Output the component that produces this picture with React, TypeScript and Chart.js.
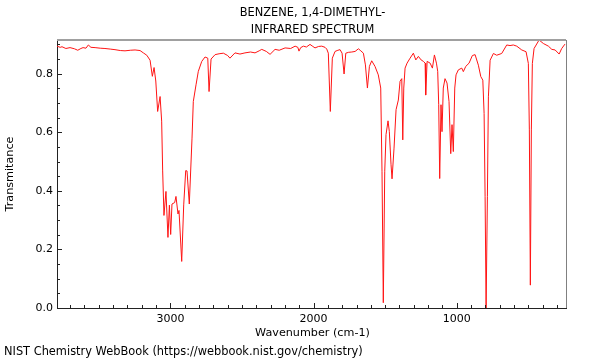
import React, { useEffect, useRef } from 'react';
import { Chart, registerables } from 'chart.js';

Chart.register(...registerables);

const TITLE_LINES = ['BENZENE, 1,4-DIMETHYL-', 'INFRARED SPECTRUM'];
const X_TITLE = 'Wavenumber (cm-1)';
const Y_TITLE = 'Transmitance';
const FOOTER = 'NIST Chemistry WebBook (https://webbook.nist.gov/chemistry)';

const X_MIN = 237;
const X_MAX = 3792;
const Y_MIN = 0;
const Y_MAX = 0.915;
const X_MINOR_STEP = 100;
const X_MAJOR_STEP = 1000;
const Y_MINOR_STEP = 0.05;
const Y_MAJOR_EVERY = 4; // every 4th minor tick (0.2) is labelled

const WAVENUMBERS = [
  3792, 3770, 3757, 3730, 3701, 3670, 3647, 3625, 3610, 3590, 3573, 3555, 3526, 3490, 3457, 3420,
  3387, 3350, 3317, 3280, 3247, 3212, 3189, 3165, 3142, 3126, 3114, 3102, 3089, 3072, 3061, 3054,
  3045, 3031, 3017, 3007, 2998, 2989, 2970, 2961, 2947, 2940, 2921, 2907, 2893, 2884, 2868, 2849,
  2840, 2821, 2805, 2781, 2758, 2739, 2730, 2716, 2688, 2660, 2630, 2600, 2584, 2549, 2514, 2479,
  2440, 2409, 2380, 2362, 2330, 2304, 2269, 2240, 2199, 2160, 2129, 2110, 2102, 2090, 2071, 2050,
  2025, 2005, 1990, 1965, 1943, 1920, 1908, 1897, 1883, 1869, 1850, 1830, 1815, 1801, 1787, 1775,
  1755, 1733, 1710, 1687, 1670, 1652, 1638, 1624, 1610, 1594, 1571, 1548, 1531, 1522, 1513, 1503,
  1494, 1480, 1471, 1459, 1452, 1438, 1424, 1408, 1396, 1384, 1377, 1370, 1361, 1347, 1326, 1303,
  1286, 1268, 1249, 1233, 1221, 1217, 1207, 1186, 1170, 1156, 1142, 1133, 1126, 1119, 1110, 1103,
  1094, 1082, 1068, 1054, 1042, 1033, 1024, 1014, 1005, 989, 965, 954, 937, 914, 891, 872,
  849, 832, 818, 809, 802, 795, 786, 779, 767, 744, 721, 686, 651, 628, 605, 581,
  546, 516, 500, 493, 486, 479, 472, 460, 425, 395, 360, 336, 313, 285, 267, 244,
];

const TRANSMITTANCE = [
  0.894, 0.890, 0.892, 0.886, 0.889, 0.885, 0.880, 0.886, 0.889, 0.887, 0.898, 0.890, 0.889, 0.887, 0.886, 0.884,
  0.882, 0.879, 0.878, 0.880, 0.881, 0.879, 0.871, 0.863, 0.846, 0.791, 0.821, 0.775, 0.671, 0.722, 0.638, 0.468,
  0.316, 0.398, 0.241, 0.351, 0.251, 0.355, 0.360, 0.381, 0.321, 0.333, 0.159, 0.352, 0.469, 0.468, 0.355, 0.580,
  0.705, 0.762, 0.808, 0.842, 0.857, 0.853, 0.739, 0.850, 0.865, 0.868, 0.870, 0.862, 0.853, 0.871, 0.867, 0.871,
  0.874, 0.871, 0.878, 0.883, 0.876, 0.866, 0.883, 0.880, 0.888, 0.886, 0.894, 0.890, 0.877, 0.889, 0.894, 0.891,
  0.900, 0.893, 0.888, 0.893, 0.894, 0.890, 0.884, 0.870, 0.671, 0.853, 0.876, 0.880, 0.882, 0.870, 0.799, 0.870,
  0.873, 0.874, 0.876, 0.885, 0.878, 0.870, 0.830, 0.751, 0.825, 0.844, 0.825, 0.796, 0.751, 0.467, 0.018, 0.467,
  0.592, 0.639, 0.603, 0.489, 0.441, 0.546, 0.677, 0.710, 0.774, 0.783, 0.574, 0.751, 0.819, 0.836, 0.853, 0.870,
  0.847, 0.859, 0.847, 0.842, 0.836, 0.727, 0.842, 0.836, 0.819, 0.864, 0.836, 0.808, 0.694, 0.442, 0.694, 0.602,
  0.751, 0.783, 0.768, 0.705, 0.527, 0.626, 0.534, 0.751, 0.796, 0.813, 0.819, 0.807, 0.825, 0.836, 0.862, 0.865,
  0.829, 0.790, 0.778, 0.664, 0.380, 0.000, 0.380, 0.721, 0.846, 0.869, 0.863, 0.869, 0.898, 0.896, 0.898, 0.894,
  0.881, 0.875, 0.835, 0.608, 0.078, 0.608, 0.835, 0.886, 0.915, 0.903, 0.894, 0.883, 0.881, 0.867, 0.886, 0.901,
];

const FONT_FAMILY = '"DejaVu Sans", sans-serif';
const TICK_FONT_SIZE = 11;
const TEXT_FONT_SIZE = 11.4;
const AXIS_TITLE_FONT_SIZE = 11.2;
const LINE_COLOR = 'rgb(255, 20, 20)';
const AXIS_COLOR = '#222222';
const FRAME_COLOR = '#a0a0a0';

const isXMajor = (v: number) => Math.abs(v / X_MAJOR_STEP - Math.round(v / X_MAJOR_STEP)) < 1e-6;
const isYMajor = (v: number) => {
  const i = Math.round(v / Y_MINOR_STEP);
  return Math.abs(v - i * Y_MINOR_STEP) < 1e-6 && i % Y_MAJOR_EVERY === 0;
};

const decorPlugin = {
  id: 'decor',
  afterDatasetsDraw(chart: any) {
    const { ctx, chartArea: a, scales } = chart;
    const xs = scales.x;
    const ys = scales.y;
    ctx.save();
    // inward tick marks
    ctx.strokeStyle = AXIS_COLOR;
    ctx.lineWidth = 1;
    ctx.beginPath();
    xs.ticks.forEach((t: any) => {
      const px = Math.round(xs.getPixelForValue(t.value)) + 0.5;
      const len = isXMajor(t.value) ? 5 : 3;
      ctx.moveTo(px, a.bottom);
      ctx.lineTo(px, a.bottom - len);
    });
    ys.ticks.forEach((t: any) => {
      const py = Math.round(ys.getPixelForValue(t.value)) + 0.5;
      const len = isYMajor(t.value) ? 5 : 3;
      ctx.moveTo(a.left, py);
      ctx.lineTo(a.left + len, py);
    });
    ctx.stroke();
    // top and right frame
    ctx.strokeStyle = FRAME_COLOR;
    ctx.lineWidth = 2;
    ctx.beginPath();
    ctx.moveTo(a.left, a.top);
    ctx.lineTo(a.right, a.top);
    ctx.stroke();
    ctx.strokeStyle = '#808080';
    ctx.lineWidth = 1;
    ctx.beginPath();
    ctx.moveTo(Math.round(a.right) + 0.5, a.top);
    ctx.lineTo(Math.round(a.right) + 0.5, a.bottom);
    ctx.stroke();
    ctx.restore();
  },
  afterDraw(chart: any) {
    const { ctx, chartArea: a } = chart;
    ctx.save();
    ctx.fillStyle = '#000';
    ctx.textAlign = 'center';
    ctx.textBaseline = 'middle';
    const cx = (a.left + a.right) / 2 + 1;
    ctx.font = `${TEXT_FONT_SIZE}px ${FONT_FAMILY}`;
    ctx.fillText(TITLE_LINES[0], cx, 13.5);
    ctx.fillText(TITLE_LINES[1], cx, 30);
    ctx.textAlign = 'left';
    ctx.fillText(FOOTER, 4, 352.5);
    ctx.textAlign = 'center';
    ctx.font = `${AXIS_TITLE_FONT_SIZE}px ${FONT_FAMILY}`;
    ctx.fillText(X_TITLE, cx, 333);
    ctx.translate(10, (a.top + a.bottom) / 2);
    ctx.rotate(-Math.PI / 2);
    ctx.fillText(Y_TITLE, 0, 0);
    ctx.restore();
  },
};

export default function App() {
  const canvasRef = useRef<HTMLCanvasElement | null>(null);

  useEffect(() => {
    const canvas = canvasRef.current;
    if (!canvas) return;
    const points = WAVENUMBERS.map((w, i) => ({ x: w, y: TRANSMITTANCE[i] }));
    const chart = new Chart(canvas, {
      type: 'line',
      data: {
        datasets: [
          {
            data: points,
            borderColor: LINE_COLOR,
            borderWidth: 1,
            pointRadius: 0,
            tension: 0,
            fill: false,
          },
        ],
      },
      options: {
        animation: false,
        responsive: false,
        devicePixelRatio: 1,
        layout: { padding: { top: 40, right: 34, left: 0, bottom: 0 } },
        plugins: {
          legend: { display: false },
          tooltip: { enabled: false },
          title: { display: false },
        },
        scales: {
          x: {
            type: 'linear',
            reverse: true,
            min: X_MIN,
            max: X_MAX,
            afterBuildTicks: (scale: any) => {
              const ticks = [];
              for (let v = Math.ceil(X_MIN / X_MINOR_STEP) * X_MINOR_STEP; v <= X_MAX; v += X_MINOR_STEP) {
                ticks.push({ value: v });
              }
              scale.ticks = ticks;
            },
            afterFit: (scale: any) => {
              scale.height = 52;
              scale.paddingLeft = 0;
              scale.paddingRight = 0;
            },
            ticks: {
              autoSkip: false,
              maxRotation: 0,
              color: '#000',
              padding: 5,
              font: { family: FONT_FAMILY, size: TICK_FONT_SIZE },
              callback: (v: any) => (isXMajor(Number(v)) ? String(v) : ''),
            },
            grid: { drawOnChartArea: false, drawTicks: false },
            border: { display: true, color: AXIS_COLOR, width: 1 },
          },
          y: {
            type: 'linear',
            min: Y_MIN,
            max: Y_MAX,
            afterBuildTicks: (scale: any) => {
              const ticks = [];
              for (let i = 0; i * Y_MINOR_STEP <= Y_MAX + 1e-9; i++) {
                ticks.push({ value: Number((i * Y_MINOR_STEP).toFixed(2)) });
              }
              scale.ticks = ticks;
            },
            afterFit: (scale: any) => {
              scale.width = 57;
              scale.paddingTop = 0;
              scale.paddingBottom = 0;
            },
            ticks: {
              autoSkip: false,
              color: '#000',
              padding: 4,
              font: { family: FONT_FAMILY, size: TICK_FONT_SIZE },
              callback: (v: any) => (isYMajor(Number(v)) ? Number(v).toFixed(1) : ''),
            },
            grid: { drawOnChartArea: false, drawTicks: false },
            border: { display: true, color: AXIS_COLOR, width: 1 },
          },
        },
      },
      plugins: [decorPlugin],
    } as any);
    return () => chart.destroy();
  }, []);

  return (
    <div style={{ position: 'absolute', left: 0, top: 0, width: 600, height: 360, background: '#fff' }}>
      <canvas ref={canvasRef} width={600} height={360} style={{ display: 'block' }} />
    </div>
  );
}
